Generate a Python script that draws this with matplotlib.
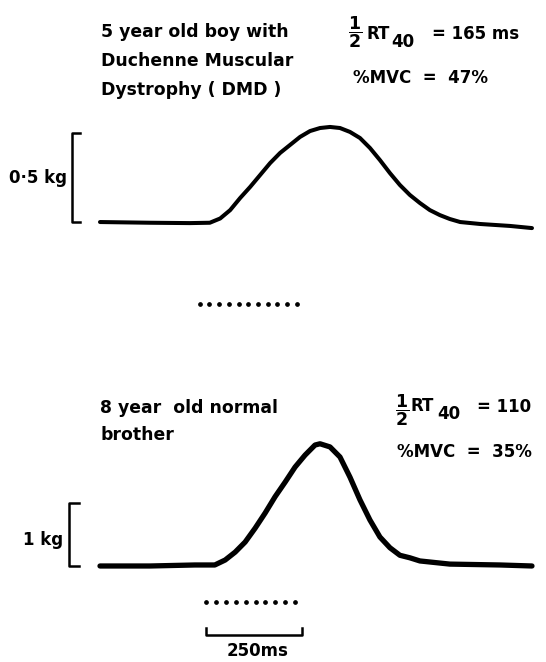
import numpy as np
import matplotlib.pyplot as plt

plt.rcParams['mathtext.fontset'] = 'dejavusans'

# DMD boy: force trace (time in ms, force in kg)
t_dmd = [0, 130, 234, 286, 313, 339, 365, 391, 417, 443, 469, 495, 521, 547, 573,
         599, 625, 651, 677, 703, 729, 755, 781, 807, 833, 859, 885, 911, 938,
         990, 1068, 1125]
f_dmd = [0, -0.004, -0.006, -0.004, 0.020, 0.067, 0.135, 0.197, 0.264, 0.331,
         0.388, 0.433, 0.478, 0.511, 0.528, 0.534, 0.528, 0.506, 0.472, 0.416,
         0.348, 0.275, 0.208, 0.152, 0.107, 0.067, 0.039, 0.017, 0.0, -0.011,
         -0.022, -0.034]

# normal brother: force trace
t_norm = [0, 130, 247, 299, 326, 352, 378, 404, 430, 456, 482, 508, 534, 547,
          560, 573, 599, 625, 651, 677, 703, 729, 755, 781, 807, 833, 911,
          1042, 1125]
f_norm = [0, 0, 0.016, 0.016, 0.095, 0.22, 0.38, 0.60, 0.84, 1.10, 1.33, 1.57,
          1.76, 1.84, 1.92, 1.94, 1.89, 1.73, 1.41, 1.05, 0.73, 0.46, 0.29,
          0.17, 0.13, 0.08, 0.03, 0.016, 0]

# dotted markers under each trace
dots_dmd = [260, 285, 311, 336, 361, 386, 412, 437, 462, 488, 513]
dots_norm = [276, 302, 328, 354, 379, 405, 431, 457, 482, 508]

scale_dmd = 0.5   # kg
scale_norm = 1.0  # kg
scale_t = [277, 527]  # 250 ms

W, H = 546, 662
fig = plt.figure(figsize=(W / 100, H / 100), dpi=100)
ax1 = fig.add_axes([0, 0.5, 1, 0.5])
ax2 = fig.add_axes([0, 0, 1, 0.5])
for ax in (ax1, ax2):
    ax.set_xlim(-260.4, 1161.5)
    ax.axis('off')
ax1.set_ylim(-0.612, 1.247)
ax2.set_ylim(-1.524, 3.730)

ax1.plot(t_dmd, f_dmd, color='black', lw=2.9, solid_capstyle='round')
ax2.plot(t_norm, f_norm, color='black', lw=3.8, solid_capstyle='round')

ax1.plot(dots_dmd, [-0.461] * len(dots_dmd), 'o', color='black', ms=2.4)
ax2.plot(dots_norm, [-0.571] * len(dots_norm), 'o', color='black', ms=2.4)

# force scale bars
ax1.plot([-52, -73, -73, -52], [scale_dmd, scale_dmd, 0, 0], color='black', lw=1.8)
ax2.plot([-55, -81, -81, -55], [scale_norm, scale_norm, 0, 0], color='black', lw=1.8)
# time scale bar
ax2.plot([scale_t[0], scale_t[0], scale_t[1], scale_t[1]],
         [-0.984, -1.095, -1.095, -0.984], color='black', lw=1.8)

def txt(x, y, s, size=12, **kw):
    fig.text(x / W, 1 - y / H, s, fontsize=size, fontweight='bold',
             va='center', **kw)

txt(101, 32, '5 year old boy with', size=12.4)
txt(101, 61, 'Duchenne Muscular', size=12.4)
txt(101, 90, 'Dystrophy ( DMD )', size=12.4)
txt(355, 32, r'$\dfrac{\mathbf{1}}{\mathbf{2}}$', ha='center', size=12.5)
txt(366, 34, 'RT')
txt(391, 42, '40')
txt(432, 34, '= 165 ms')
txt(353, 78, '%MVC  =  47%')
txt(67, 178, '0·5 kg', ha='right')

txt(100, 408, '8 year  old normal', size=12.4)
txt(100, 435, 'brother', size=12.4)
txt(402, 410, r'$\dfrac{\mathbf{1}}{\mathbf{2}}$', ha='center', size=12.5)
txt(411, 406, 'RT')
txt(437, 414, '40')
txt(477, 407, '= 110')
txt(397, 452, '%MVC  =  35%')
txt(63, 540, '1 kg', ha='right')
txt(258, 651, '250ms', ha='center')

fig.savefig('out.png', dpi=100)
